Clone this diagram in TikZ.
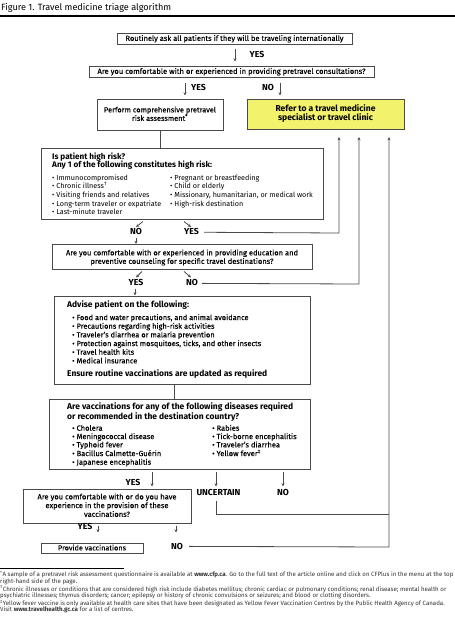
\documentclass[tikz,border=0pt]{standalone}
\usepackage{fontspec}
\setmainfont{Fira Sans}
\newfontfamily\medium{Fira Sans}[FakeBold=0.12]
\usetikzlibrary{arrows.meta,calc}
\definecolor{lncol}{HTML}{4A4A4A}
\definecolor{yel}{HTML}{F2F26C}
\newlength\fitlen
\newcommand\fitsize[3]{%
  \settowidth\fitlen{\normalfont\fontsize{10pt}{12pt}\selectfont #2}%
  \ifdim\fitlen<20pt \global\fitlen=#3pt\fi
  \xdef#1{\the\dimexpr 10pt*\number\dimexpr #3pt\relax/\number\fitlen\relax}%
}
\AtBeginDocument{%
\fitsize\sTitle{Figure 1. Travel medicine triage algorithm}{170}%
\fitsize\sA{\medium Routinely ask all patients if they will be traveling internationally}{218}%
\fitsize\sB{\medium Are you comfortable with or experienced in providing pretravel consultations?}{268}%
\fitsize\sC{\medium Perform comprehensive pretravel}{112}%
\fitsize\sRef{\bfseries Refer to a travel medicine}{100}%
\fitsize\sHf{\bfseries Any 1 of the following constitutes high risk:}{160}%
\fitsize\sBf{\textbullet\ Long-term traveler or expatriate}{109}%
\fitsize\sE{\medium Are you comfortable with or experienced in providing education and}{232}%
\fitsize\sHs{\bfseries Ensure routine vaccinations are updated as required}{200}%
\fitsize\sBs{\medium\textbullet\ Protection against mosquitoes, ticks, and other insects}{189}%
\fitsize\sHv{\bfseries Are vaccinations for any of the following diseases required}{226}%
\fitsize\sBv{\medium\textbullet\ Bacillus Calmette-Guérin}{89}%
\fitsize\sP{\medium Are you comfortable with or do you have}{139}%
\fitsize\sPv{\medium Provide vaccinations}{68}%
\fitsize\sL{\bfseries UNCERTAIN}{44}%
\fitsize\sFn{\textsuperscript{*}A sample of a pretravel risk assessment questionnaire is available at \textbf{www.cfp.ca}. Go to the full text of the article online and click on CFPlus in the menu at the top}{453}%
}
\tikzset{
  box/.style={draw=lncol, line width=1pt, inner sep=0pt},
  arr/.style={draw=lncol, line width=0.8pt, -{Stealth[length=3.2pt,width=3pt]}},
  conn/.style={draw=lncol, line width=0.8pt},
  tl/.style={inner sep=0pt, anchor=base west, yshift=-2.4pt, text=black},
  tc/.style={inner sep=0pt, anchor=base, yshift=-2.4pt, text=black},
  fn/.style={inner sep=0pt, anchor=base west, yshift=-1.7pt, text=black!80},
  fT/.style={font=\fontsize{\sTitle}{\sTitle}\selectfont},
  fA/.style={font=\medium\fontsize{\sA}{\sA}\selectfont},
  fB/.style={font=\medium\fontsize{\sB}{\sB}\selectfont},
  fC/.style={font=\medium\fontsize{\sC}{\sC}\selectfont},
  fRef/.style={font=\bfseries\fontsize{\sRef}{\sRef}\selectfont},
  fHf/.style={font=\bfseries\fontsize{\sHf}{\sHf}\selectfont},
  fBf/.style={font=\fontsize{\sBf}{\sBf}\selectfont},
  fE/.style={font=\medium\fontsize{\sE}{\sE}\selectfont},
  fHs/.style={font=\bfseries\fontsize{\sHs}{\sHs}\selectfont},
  fBs/.style={font=\medium\fontsize{\sBs}{\sBs}\selectfont},
  fHv/.style={font=\bfseries\fontsize{\sHv}{\sHv}\selectfont},
  fBv/.style={font=\medium\fontsize{\sBv}{\sBv}\selectfont},
  fP/.style={font=\medium\fontsize{\sP}{\sP}\selectfont},
  fPv/.style={font=\medium\fontsize{\sPv}{\sPv}\selectfont},
  lbl/.style={tc, font=\bfseries\fontsize{\sL}{\sL}\selectfont},
  fF/.style={fn, font=\fontsize{\sFn}{\sFn}\selectfont},
}
\begin{document}
\begin{tikzpicture}[x=1pt,y=-1pt]
\useasboundingbox (0,0) rectangle (455,629);
% title
\node[tl, fT, yshift=-0.6pt] (title) at (1,7.5) {Figure 1. Travel medicine triage algorithm};
\draw[line width=1.7pt] (0,16) -- (455,16);

% boxes
\node[box, minimum width=235pt, minimum height=11pt] (b1) at (234.5,38.5) {};
\node[tc, fA] (t1) at (234.5,38.5) {Routinely ask all patients if they will be traveling internationally};
\node[box, minimum width=285pt, minimum height=11pt] (b2) at (231.5,71.5) {};
\node[tc, fB] (t2) at (231.5,71.5) {Are you comfortable with or experienced in providing pretravel consultations?};
\node[box, minimum width=126pt, minimum height=31pt] (b3) at (160,114.5) {};
\node[tc, fC] (t3a) at (160,110) {Perform comprehensive pretravel};
\node[tc, fC] (t3b) at (160,118.5) {risk assessment\textsuperscript{*}};
\node[box, fill=yel, minimum width=157pt, minimum height=30pt] (ref) at (325.5,114) {};
\node[tc, fRef] (tref1) at (325.5,109) {Refer to a travel medicine};
\node[tc, fRef] (tref2) at (325.5,118.5) {specialist or travel clinic};

\node[box, minimum width=282pt, minimum height=71pt] (b4) at (182,183.5) {};
\node[tl, fHf] (h4a) at (52,157) {Is patient high risk?};
\node[tl, fHf] (h4b) at (52,165.5) {Any 1 of the following constitutes high risk:};
\node[tl, fBf] (r1) at (52,178) {\textbullet\ Immunocompromised};
\node[tl, fBf] (r2) at (52,186.5) {\textbullet\ Chronic illness\textsuperscript{†}};
\node[tl, fBf] (r3) at (52,195) {\textbullet\ Visiting friends and relatives};
\node[tl, fBf] (r4) at (52,203.7) {\textbullet\ Long-term traveler or expatriate};
\node[tl, fBf] (r5) at (52,212.3) {\textbullet\ Last-minute traveler};
\node[tl, fBf] (r6) at (170,178) {\textbullet\ Pregnant or breastfeeding};
\node[tl, fBf] (r7) at (170,186.5) {\textbullet\ Child or elderly};
\node[tl, fBf] (r8) at (170,195) {\textbullet\ Missionary, humanitarian, or medical work};
\node[tl, fBf] (r9) at (170,203.7) {\textbullet\ High-risk destination};

\node[box, minimum width=260pt, minimum height=25pt] (b5) at (182,256.5) {};
\node[tc, fE] (t5a) at (182,253) {Are you comfortable with or experienced in providing education and};
\node[tc, fE] (t5b) at (182,261.5) {preventive counseling for specific travel destinations?};

\node[box, minimum width=256pt, minimum height=88pt] (b6) at (182,340) {};
\node[tl, fHs] (h6) at (67,305) {Advise patient on the following:};
\node[tl, fBs] (a1) at (72,317.7) {\textbullet\ Food and water precautions, and animal avoidance};
\node[tl, fBs] (a2) at (72,326.3) {\textbullet\ Precautions regarding high-risk activities};
\node[tl, fBs] (a3) at (72,335) {\textbullet\ Traveler’s diarrhea or malaria prevention};
\node[tl, fBs] (a4) at (72,343.7) {\textbullet\ Protection against mosquitoes, ticks, and other insects};
\node[tl, fBs] (a5) at (72,352.3) {\textbullet\ Travel health kits};
\node[tl, fBs] (a6) at (72,361) {\textbullet\ Medical insurance};
\node[tl, fHs] (e6) at (67,373.7) {Ensure routine vaccinations are updated as required};

\node[box, minimum width=261pt, minimum height=70pt] (b7) at (179.5,434) {};
\node[tl, fHv] (h7a) at (67,407.3) {Are vaccinations for any of the following diseases required};
\node[tl, fHv] (h7b) at (67,417) {or recommended in the destination country?};
\node[tl, fBv] (v1) at (72,428.3) {\textbullet\ Cholera};
\node[tl, fBv] (v2) at (72,436.7) {\textbullet\ Meningococcal disease};
\node[tl, fBv] (v3) at (72,445) {\textbullet\ Typhoid fever};
\node[tl, fBv] (v4) at (72,453.7) {\textbullet\ Bacillus Calmette-Guérin};
\node[tl, fBv] (v5) at (72,462.3) {\textbullet\ Japanese encephalitis};
\node[tl, fBv] (v6) at (212,428.3) {\textbullet\ Rabies};
\node[tl, fBv] (v7) at (212,436.7) {\textbullet\ Tick-borne encephalitis};
\node[tl, fBv] (v8) at (212,445) {\textbullet\ Traveler’s diarrhea};
\node[tl, fBv] (v9) at (212,453.7) {\textbullet\ Yellow fever\textsuperscript{‡}};

\node[box, minimum width=168pt, minimum height=34pt] (b8) at (107,506) {};
\node[tc, fP] (t8a) at (107,497) {Are you comfortable with or do you have};
\node[tc, fP] (t8b) at (107,505.7) {experience in the provision of these};
\node[tc, fP] (t8c) at (107,514.5) {vaccinations?};
\node[box, minimum width=102pt, minimum height=10pt] (b9) at (92,548) {};
\node[tc, fPv] (t9) at (92,548) {Provide vaccinations};

% labels
\node[lbl] (y1) at (257,55) {YES};
\node[lbl] (y2) at (198.5,88.5) {YES};
\node[lbl] (n2) at (268,88.5) {NO};
\node[lbl] (n4) at (136,232.5) {NO};
\node[lbl] (y4) at (191.5,232.5) {YES};
\node[lbl] (y5) at (136,283.5) {YES};
\node[lbl] (n5) at (192,283.5) {NO};
\node[lbl] (y7) at (133,483) {YES};
\node[lbl] (u7) at (218.5,493) {UNCERTAIN};
\node[lbl] (n7) at (283,493) {NO};
\node[lbl] (y8) at (85,527) {YES};
\node[lbl] (n8) at (177,547) {NO};

% coordinates
\coordinate (c1) at (339,137);
\coordinate (c2) at (359,137);
\coordinate (c3) at (389,137);
\coordinate (c1b) at (339,233);
\coordinate (c2b) at (359,284);
\coordinate (c3b) at (389,547);
\coordinate (uj) at (389,514);
\coordinate (ub) at (216,514);

% connectors
\draw[arr] ($(b1.south)+(0.5,4)$) -- ($(b2.north)+(3.5,-4)$);
\draw[arr] ($(b3.north)+(25,-16)$) -- ($(b3.north)+(25,-3)$);
\draw[arr] ($(ref.north)+(-45.5,-16)$) -- ($(ref.north)+(-45.5,-3)$);
\draw[conn] (b3.south) -- (b4.north -| b3.south);
% high risk
\draw[arr] ($(b4.south)+(-39,2)$) -- ($(b4.south)+(-46,7.5)$);
\draw[arr] ($(b4.south)+(-46,18)$) -- ($(b4.south)+(-46,24.5)$);
\draw[arr] ($(b4.south)+(2,2)$) -- ($(b4.south)+(9,7.5)$);
\draw[conn, -{Stealth[length=3.2pt,width=3pt]}] ($(y4.east)+(5,0.4)$) -- (c1b) -- (c1);
% education
\draw[arr] ($(b5.south)+(-40,2)$) -- ($(b5.south)+(-46,8)$);
\draw[arr] ($(b5.south)+(-47,19)$) -- ($(b5.south)+(-47,26)$);
\draw[arr] ($(b5.south)+(2,2)$) -- ($(b5.south)+(9,8)$);
\draw[conn, -{Stealth[length=3.2pt,width=3pt]}] ($(n5.east)+(4,0.5)$) -- (c2b) -- (c2);
% advise -> vaccinations
\draw[conn] ($(b6.south)+(-8,0)$) -- ($(b7.north)+(-5.5,0)$);
% vaccinations branches
\draw[arr] ($(b7.south)+(-27.5,2)$) -- ($(b7.south)+(-27.5,17)$);
\draw[arr] ($(b7.south)+(36.5,2)$) -- ($(b7.south)+(36.5,17)$);
\draw[arr] ($(b7.south)+(103.5,2)$) -- ($(b7.south)+(103.5,17)$);
\draw[conn] ($(ub)+(0,-13)$) -- (ub) -- (uj);
% provision
\draw[arr] ($(b8.south)+(-9,2)$) -- ($(b8.south)+(-9,9)$);
\draw[arr] ($(b8.south)+(69,2)$) -- ($(b8.south)+(69,9)$);
\draw[conn, -{Stealth[length=3.2pt,width=3pt]}] ($(n8.east)+(6,0)$) -- (c3b) -- (c3);

% footnotes
\draw[line width=0.5pt] (0,568) -- (124,568);
\node[fF] (f1) at (0,575) {\textsuperscript{*}A sample of a pretravel risk assessment questionnaire is available at \textbf{www.cfp.ca}. Go to the full text of the article online and click on CFPlus in the menu at the top};
\node[fF] (f2) at (0,581.5) {right-hand side of the page.};
\node[fF] (f3) at (0,589.5) {\textsuperscript{†}Chronic illnesses or conditions that are considered high risk include diabetes mellitus; chronic cardiac or pulmonary conditions; renal disease; mental health or};
\node[fF] (f4) at (0,596) {psychiatric illnesses; thymus disorders; cancer; epilepsy or history of chronic convulsions or seizures; and blood or clotting disorders.};
\node[fF] (f5) at (0,604) {\textsuperscript{‡}Yellow fever vaccine is only available at health care sites that have been designated as Yellow Fever Vaccination Centres by the Public Health Agency of Canada.};
\node[fF] (f6) at (0,610) {Visit \textbf{www.travelhealth.gc.ca} for a list of centres.};
\end{tikzpicture}
\end{document}
